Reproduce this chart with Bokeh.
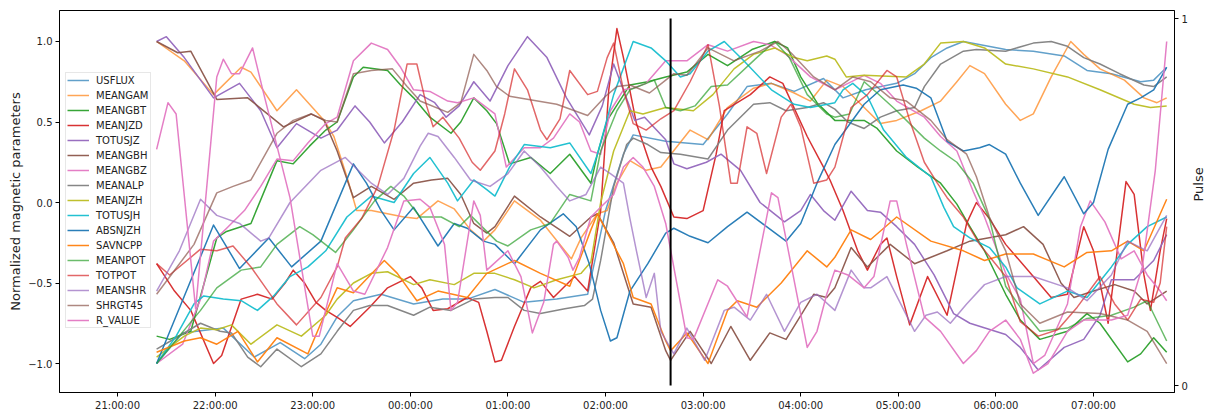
import math
import datetime as dt
import pandas as pd
from bokeh.plotting import figure
from bokeh.models import (Range1d, LinearAxis, FixedTicker, DatetimeTickFormatter,
                          Legend, LegendItem, CustomJSTickFormatter)
from bokeh.embed import file_html
from bokeh.resources import INLINE

# ---------------- data (minutes after 21:00, normalized values) ----------------
base = dt.datetime(2011, 2, 14, 21, 0)

usflux_t = [24, 40, 65, 84, 100, 115, 125, 135, 145, 162, 182, 200, 215, 232, 250, 270, 289, 300, 311, 317, 337, 360, 375, 387, 402, 416, 434, 446, 460, 479, 490, 500, 510, 520, 546, 563, 582, 596, 611, 629, 637, 645]
usflux_v = [-1.0, -0.81, -0.78, -0.96, -0.87, -0.97, -0.88, -0.71, -0.61, -0.57, -0.63, -0.60, -0.60, -0.54, -0.62, -0.60, -0.57, -0.05, 0.30, 0.42, 0.38, 0.36, 0.55, 0.72, 0.74, 0.69, 0.77, 0.65, 0.70, 0.74, 0.80, 0.90, 0.96, 1.0, 0.95, 0.94, 0.91, 0.82, 0.80, 0.75, 0.76, 0.84]

meangam_t = [24, 41, 59, 76, 82, 98, 110, 127, 133, 141, 147, 156, 176, 184, 197, 207, 217, 225, 232, 244, 260, 279, 285, 295, 301, 307, 315, 325, 334, 352, 363, 375, 391, 402, 416, 426, 436, 446, 459, 469, 479, 494, 506, 516, 524, 533, 546, 555, 563, 574, 586, 594, 604, 619, 631, 639, 645]
meangam_v = [1.0, 0.88, 0.67, 0.84, 0.81, 0.57, 0.70, 0.51, 0.41, 0.16, -0.05, -0.05, -0.09, -0.10, 0.01, -0.04, -0.17, -0.24, -0.17, 0.01, -0.11, -0.35, -0.22, -0.07, -0.05, 0.12, 0.26, 0.20, 0.22, 0.45, 0.39, 0.59, 0.71, 0.74, 0.68, 0.63, 0.76, 0.72, 0.59, 0.49, 0.51, 0.57, 0.63, 0.75, 0.85, 0.80, 0.61, 0.51, 0.55, 0.78, 1.0, 0.92, 0.83, 0.76, 0.65, 0.62, 0.65]

meangbt_t = [24, 32, 45, 61, 67, 82, 98, 108, 118, 128, 135, 145, 151, 166, 174, 182, 192, 205, 211, 219, 227, 233, 241, 254, 266, 278, 291, 295, 301, 315, 326, 337, 350, 363, 375, 390, 404, 412, 420, 430, 441, 459, 467, 479, 492, 506, 516, 524, 533, 546, 555, 567, 584, 596, 604, 621, 629, 637, 645]
meangbt_v = [-0.83, -0.85, -0.80, -0.22, -0.18, -0.13, 0.26, 0.24, 0.35, 0.45, 0.50, 0.78, 0.84, 0.82, 0.73, 0.65, 0.53, 0.43, 0.50, 0.65, 0.57, 0.49, 0.24, 0.28, 0.18, 0.30, 0.12, 0.30, 0.51, 0.73, 0.75, 0.78, 0.81, 0.92, 0.85, 0.95, 1.0, 0.96, 0.78, 0.62, 0.51, 0.51, 0.46, 0.32, 0.22, 0.12, -0.01, -0.15, -0.30, -0.57, -0.73, -0.85, -0.80, -0.69, -0.75, -0.99, -0.94, -0.84, -0.93]

meanjzd_t = [24, 35, 45, 59, 64, 76, 86, 95, 103, 108, 115, 122, 128, 136, 143, 155, 166, 180, 187, 194, 203, 215, 222, 227, 232, 236, 244, 254, 260, 268, 281, 289, 297, 302, 307, 311, 319, 328, 334, 342, 350, 360, 368, 373, 389, 401, 409, 424, 434, 438, 446, 455, 461, 469, 473, 479, 487, 498, 510, 522, 528, 536, 546, 563, 574, 584, 594, 600, 609, 620, 625, 631, 635, 641, 645]
meanjzd_v = [-0.38, -0.55, -0.67, -1.0, -0.95, -0.60, -0.57, -0.60, -0.50, -0.42, -0.50, -0.62, -0.67, -0.72, -0.77, -0.65, -0.53, -0.46, -0.53, -0.67, -0.66, -0.59, -0.62, -0.80, -0.99, -0.98, -0.77, -0.53, -0.49, -0.59, -0.46, -0.55, -0.05, 0.70, 1.08, 0.90, 0.49, 0.22, 0.10, -0.09, -0.10, -0.05, 0.30, 0.57, 0.67, 0.78, 0.74, 0.41, 0.22, 0.14, -0.05, -0.30, -0.42, -0.26, -0.22, -0.46, -0.76, -0.46, -0.70, -0.13, 0.0, -0.10, -0.26, -0.46, -0.59, -0.57, -0.15, -0.30, -0.75, 0.13, 0.05, -0.45, -0.67, -0.30, -0.10]

totusjz_t = [24, 30, 41, 59, 75, 88, 98, 110, 125, 135, 146, 155, 164, 175, 186, 195, 202, 210, 219, 229, 240, 252, 264, 276, 290, 298, 305, 318, 324, 337, 342, 350, 362, 371, 383, 395, 410, 420, 426, 434, 441, 451, 461, 469, 479, 490, 502, 514, 524, 546, 555, 566, 582, 594, 604, 611, 625, 637, 645]
totusjz_v = [1.0, 1.03, 0.90, 0.65, 0.74, 0.57, 0.34, 0.49, 0.40, 0.45, 0.60, 0.50, 0.37, 0.50, 0.67, 0.62, 0.53, 0.60, 0.75, 0.63, 0.85, 1.03, 0.90, 0.65, 0.42, 0.60, 0.86, 0.51, 0.53, 0.39, 0.24, 0.21, 0.25, 0.30, 0.20, 0.0, -0.12, -0.05, 0.05, -0.05, -0.11, 0.07, -0.05, -0.06, -0.15, -0.26, -0.45, -0.69, -0.75, -0.82, -0.90, -1.04, -0.90, -0.85, -0.70, -0.48, -0.48, -0.36, -0.20]

meangbh_t = [24, 37, 45, 61, 80, 102, 119, 127, 135, 145, 156, 170, 182, 193, 203, 211, 219, 227, 232, 244, 260, 278, 291, 295, 305, 317, 328, 337, 340, 352, 365, 377, 389, 401, 411, 428, 436, 441, 451, 461, 475, 490, 500, 510, 524, 546, 557, 569, 580, 588, 600, 613, 625, 633, 645]
meangbh_v = [1.0, 0.93, 0.94, 0.64, 0.65, 0.47, 0.55, 0.51, 0.32, 0.03, 0.10, 0.02, 0.12, 0.14, 0.15, 0.05, -0.13, -0.19, -0.15, 0.04, -0.09, -0.21, -0.09, -0.07, -0.25, -0.63, -0.65, -0.92, -0.98, -0.80, -1.0, -0.77, -0.98, -0.81, -0.85, -0.57, -0.59, -0.53, -0.28, -0.40, -0.26, -0.38, -0.34, -0.30, -0.24, -0.20, -0.15, -0.26, -0.50, -0.59, -0.55, -0.51, -0.55, -0.63, -0.55]

meangbz_t = [24, 40, 51, 59, 68, 78, 88, 98, 108, 117, 128, 135, 145, 156, 166, 174, 182, 192, 203, 209, 219, 232, 239, 250, 260, 268, 278, 284, 291, 297, 303, 311, 317, 325, 337, 350, 363, 375, 391, 401, 411, 426, 441, 459, 469, 479, 496, 506, 516, 526, 533, 546, 555, 563, 570, 584, 592, 598, 607, 617, 625, 633, 641, 645]
meangbz_v = [-1.0, -0.88, -0.60, -0.24, -0.15, -0.05, 0.10, 0.27, 0.26, 0.37, 0.49, 0.53, 0.88, 0.99, 0.95, 0.84, 0.70, 0.69, 0.63, 0.62, 0.65, 0.55, 0.22, 0.34, 0.34, 0.40, 0.55, 0.50, 0.32, 0.30, 0.57, 0.70, 0.71, 0.74, 0.88, 0.88, 0.98, 0.94, 1.0, 0.98, 0.92, 0.78, 0.70, 0.79, 0.74, 0.63, 0.53, 0.41, 0.32, 0.07, -0.09, -0.44, -0.60, -1.0, -0.95, -0.63, -0.15, 0.01, -0.12, -0.35, -0.30, -0.45, -0.55, -0.61]

meanalp_t = [24, 36, 51, 63, 70, 80, 88, 98, 113, 125, 135, 145, 155, 166, 182, 192, 205, 219, 232, 240, 250, 260, 275, 287, 292, 297, 305, 313, 317, 326, 334, 346, 363, 375, 391, 401, 411, 424, 434, 441, 449, 459, 469, 479, 490, 496, 506, 520, 528, 546, 563, 574, 584, 594, 604, 616, 631, 637, 645]
meanalp_v = [-0.91, -0.84, -0.75, -0.80, -0.81, -0.96, -1.02, -0.91, -1.02, -0.94, -0.80, -0.67, -0.64, -0.64, -0.70, -0.65, -0.67, -0.60, -0.59, -0.59, -0.67, -0.69, -0.66, -0.64, -0.60, -0.36, 0.10, 0.36, 0.40, 0.36, 0.31, 0.30, 0.27, 0.45, 0.61, 0.62, 0.57, 0.59, 0.62, 0.58, 0.50, 0.46, 0.53, 0.57, 0.59, 0.72, 0.86, 0.94, 0.95, 0.94, 0.99, 1.0, 0.97, 0.90, 0.86, 0.80, 0.73, 0.72, 0.78]

meanjzh_t = [24, 41, 51, 61, 70, 82, 98, 113, 128, 135, 145, 156, 166, 182, 192, 207, 219, 232, 244, 256, 270, 285, 291, 297, 305, 315, 323, 337, 354, 366, 379, 391, 404, 416, 424, 436, 441, 448, 459, 485, 496, 506, 520, 533, 546, 563, 584, 604, 625, 635, 645]
meanjzh_v = [-0.96, -0.83, -0.78, -0.79, -0.76, -0.88, -0.76, -0.83, -0.70, -0.60, -0.50, -0.44, -0.43, -0.51, -0.48, -0.51, -0.44, -0.44, -0.48, -0.53, -0.48, -0.44, -0.37, 0.0, 0.32, 0.57, 0.55, 0.59, 0.57, 0.67, 0.83, 0.92, 0.96, 0.90, 0.88, 0.91, 0.89, 0.78, 0.79, 0.78, 0.86, 0.99, 1.0, 0.96, 0.86, 0.83, 0.78, 0.70, 0.61, 0.59, 0.60]

totusjh_t = [24, 36, 47, 53, 65, 76, 86, 96, 106, 117, 128, 141, 156, 170, 182, 192, 203, 209, 219, 227, 232, 241, 250, 266, 278, 291, 295, 305, 317, 328, 337, 346, 352, 363, 373, 385, 402, 416, 426, 441, 446, 452, 461, 471, 485, 500, 508, 514, 524, 536, 546, 553, 567, 584, 596, 611, 621, 633, 645]
totusjh_v = [-1.0, -0.83, -0.63, -0.58, -0.60, -0.61, -0.67, -0.58, -0.46, -0.40, -0.30, -0.09, 0.04, 0.0, 0.18, 0.28, 0.12, 0.01, 0.14, 0.08, 0.04, 0.22, 0.36, 0.34, 0.37, 0.18, 0.30, 0.67, 1.0, 0.96, 0.88, 0.78, 0.80, 0.94, 1.0, 0.88, 0.70, 0.61, 0.59, 0.62, 0.70, 0.74, 0.66, 0.45, 0.28, 0.16, -0.03, -0.15, -0.22, -0.28, -0.40, -0.53, -0.63, -0.55, -0.59, -0.40, -0.26, -0.15, -0.09]

absnjzh_t = [24, 59, 75, 93, 107, 125, 145, 153, 162, 170, 182, 197, 207, 215, 225, 232, 244, 260, 274, 282, 290, 297, 303, 307, 315, 326, 337, 342, 352, 363, 375, 387, 399, 411, 420, 430, 441, 459, 469, 483, 491, 500, 510, 520, 530, 536, 546, 555, 566, 582, 594, 600, 609, 621, 629, 637, 645]
absnjzh_v = [-1.0, -0.14, -0.41, -0.22, -0.40, -0.24, 0.24, 0.12, -0.05, -0.17, -0.03, -0.27, -0.13, -0.16, -0.24, -0.26, -0.38, -0.17, -0.07, -0.15, -0.38, -0.67, -0.86, -0.84, -0.55, -0.38, -0.19, -0.16, -0.21, -0.25, -0.15, -0.06, -0.15, -0.24, -0.13, 0.12, 0.36, 0.61, 0.70, 0.73, 0.71, 0.65, 0.38, 0.32, 0.34, 0.36, 0.30, 0.12, -0.08, 0.16, -0.07, 0.0, 0.33, 0.61, 0.65, 0.70, 0.84]

savncpp_t = [24, 41, 51, 61, 74, 86, 98, 117, 125, 135, 145, 164, 172, 184, 197, 215, 227, 244, 260, 278, 291, 295, 311, 317, 328, 337, 340, 350, 363, 375, 381, 393, 408, 424, 436, 441, 451, 463, 479, 500, 520, 533, 546, 563, 582, 596, 611, 621, 631, 645]
savncpp_v = [-0.93, -0.86, -0.84, -0.88, -0.80, -0.99, -0.84, -0.94, -0.75, -0.53, -0.56, -0.36, -0.44, -0.61, -0.55, -0.59, -0.44, -0.36, -0.44, -0.52, -0.17, -0.07, -0.38, -0.59, -0.63, -0.86, -0.92, -0.81, -1.0, -0.67, -0.61, -0.65, -0.50, -0.30, -0.40, -0.34, -0.17, -0.23, -0.09, -0.24, -0.30, -0.36, -0.32, -0.32, -0.40, -0.31, -0.30, -0.24, -0.30, 0.02]

meanpot_t = [24, 51, 61, 76, 88, 98, 112, 120, 134, 145, 158, 168, 176, 186, 199, 210, 217, 233, 240, 254, 266, 278, 291, 297, 307, 315, 330, 337, 346, 355, 365, 375, 393, 404, 413, 424, 436, 441, 450, 459, 467, 479, 496, 506, 516, 526, 536, 546, 555, 567, 584, 596, 611, 625, 633, 645]
meanpot_v = [-1.0, -0.67, -0.53, -0.42, -0.40, -0.26, -0.15, -0.20, -0.31, -0.17, 0.01, 0.10, 0.04, -0.09, -0.09, -0.15, -0.08, -0.24, -0.27, -0.17, -0.13, 0.05, 0.01, 0.32, 0.57, 0.70, 0.76, 0.59, 0.57, 0.60, 0.72, 0.73, 0.90, 1.0, 0.90, 0.67, 0.55, 0.53, 0.55, 0.75, 0.68, 0.57, 0.40, 0.32, 0.25, 0.12, -0.10, -0.52, -0.65, -0.80, -0.78, -0.72, -0.70, -0.65, -0.61, -0.86]

totpot_t = [24, 32, 51, 61, 71, 82, 98, 110, 125, 135, 140, 150, 160, 170, 178, 184, 190, 194, 200, 210, 218, 223, 232, 238, 244, 252, 260, 264, 272, 278, 289, 295, 301, 305, 311, 317, 325, 334, 342, 352, 363, 370, 377, 381, 387, 393, 399, 408, 414, 420, 428, 436, 441, 451, 461, 473, 479, 487, 496, 504, 510, 520, 530, 546, 555, 566, 578, 590, 604, 613, 621, 629, 637, 641, 645]
totpot_v = [-0.38, -0.45, -0.29, -0.30, -0.27, -0.40, -0.63, -0.76, -0.59, -0.40, -0.22, -0.10, 0.10, 0.45, 0.86, 0.86, 0.60, 0.47, 0.53, 0.40, 0.25, 0.20, 0.32, 0.55, 0.83, 0.70, 0.45, 0.39, 0.52, 0.82, 0.67, 0.69, 0.90, 0.99, 0.70, 0.49, 0.45, 0.52, 0.57, 0.75, 0.98, 0.60, 0.12, 0.12, 0.47, 0.43, 0.18, 0.53, 0.61, 0.47, 0.12, 0.14, 0.22, 0.59, 0.67, 0.82, 0.78, 0.51, 0.25, 0.12, 0.03, -0.09, -0.26, -0.46, -0.74, -0.83, -0.79, -0.65, -0.46, -0.63, -0.73, -0.60, -0.62, -0.50, -0.15]

meanshr_t = [24, 38, 51, 61, 75, 88, 93, 106, 125, 140, 156, 166, 176, 186, 191, 197, 207, 217, 229, 240, 250, 260, 270, 278, 288, 297, 303, 311, 315, 319, 325, 330, 334, 342, 350, 361, 373, 379, 389, 399, 410, 420, 430, 441, 451, 459, 463, 473, 480, 490, 497, 504, 512, 522, 533, 546, 563, 584, 596, 611, 621, 629, 633, 645]
meanshr_v = [-0.55, -0.30, 0.02, -0.08, -0.13, -0.24, -0.22, 0.0, 0.20, 0.28, 0.12, 0.05, 0.15, 0.35, 0.43, 0.41, 0.28, 0.14, 0.10, 0.18, 0.32, 0.22, 0.10, 0.01, 0.05, 0.22, 0.18, 0.12, -0.10, -0.30, -0.59, -0.44, -0.80, -0.94, -0.78, -0.98, -0.67, -0.65, -0.73, -0.57, -0.80, -0.62, -0.57, -0.67, -0.42, -0.53, -0.53, -0.46, -0.60, -0.80, -0.70, -0.68, -0.75, -0.63, -0.51, -0.46, -0.46, -0.53, -0.61, -0.45, -0.24, -0.28, -0.30, -0.08]

shrgt45_t = [24, 47, 61, 71, 82, 92, 98, 108, 119, 128, 135, 145, 156, 169, 178, 186, 203, 211, 219, 227, 233, 241, 270, 289, 300, 307, 315, 327, 337, 342, 350, 363, 379, 395, 406, 414, 428, 441, 452, 463, 475, 485, 500, 510, 522, 528, 536, 546, 555, 567, 584, 604, 621, 633, 645]
shrgt45_v = [-0.57, -0.26, 0.06, 0.10, 0.14, 0.32, 0.43, 0.51, 0.55, 0.51, 0.50, 0.80, 0.82, 0.83, 0.72, 0.63, 0.56, 0.62, 0.92, 0.82, 0.72, 0.66, 0.61, 0.54, 0.66, 0.72, 0.73, 0.68, 0.76, 0.80, 0.79, 0.96, 0.88, 0.94, 1.0, 0.93, 0.78, 0.70, 0.78, 0.75, 0.65, 0.63, 0.51, 0.39, 0.30, 0.16, -0.09, -0.30, -0.63, -0.75, -0.68, -0.69, -0.73, -0.80, -1.0]

r_value_t = [24, 31, 36, 48, 61, 65, 70, 75, 83, 90, 106, 120, 124, 135, 145, 152, 166, 176, 186, 192, 201, 205, 209, 219, 223, 227, 240, 248, 255, 262, 268, 270, 277, 280, 284, 291, 297, 305, 311, 317, 323, 330, 337, 350, 354, 369, 375, 387, 402, 406, 424, 430, 436, 441, 449, 459, 465, 475, 479, 485, 496, 506, 520, 528, 536, 546, 555, 563, 572, 584, 594, 611, 621, 630, 638, 645]
r_value_v = [0.33, 0.62, 0.55, -0.66, 0.78, 0.89, 0.80, 0.80, 0.96, 0.67, 0.03, -0.83, -0.83, -0.38, -0.55, -0.57, -0.28, 0.01, 0.02, -0.03, -0.26, -0.67, -0.62, 0.01, -0.08, -0.42, -0.30, -0.46, -0.81, -0.62, -0.26, -0.24, -0.34, -0.42, -0.34, -0.09, -0.03, 0.05, 0.22, 0.28, 0.22, 0.10, -0.13, -0.84, -0.85, -0.48, -0.52, -0.71, 0.06, 0.03, -0.90, -0.80, -0.57, -0.42, -0.45, -0.53, -0.46, 0.01, 0.01, -0.26, -0.71, -0.80, -1.0, -0.92, -0.80, -0.73, -0.85, -1.06, -1.0, -0.80, -0.73, -0.73, -0.70, -0.40, 0.20, 1.0]

pulse_t = 340          # minutes after 21:00
pulse_v = [0, 1]

series_names = ["USFLUX", "MEANGAM", "MEANGBT", "MEANJZD", "TOTUSJZ", "MEANGBH",
                "MEANGBZ", "MEANALP", "MEANJZH", "TOTUSJH", "ABSNJZH", "SAVNCPP",
                "MEANPOT", "TOTPOT", "MEANSHR", "SHRGT45", "R_VALUE"]
series_data = [(usflux_t, usflux_v), (meangam_t, meangam_v), (meangbt_t, meangbt_v),
               (meanjzd_t, meanjzd_v), (totusjz_t, totusjz_v), (meangbh_t, meangbh_v),
               (meangbz_t, meangbz_v), (meanalp_t, meanalp_v), (meanjzh_t, meanjzh_v),
               (totusjh_t, totusjh_v), (absnjzh_t, absnjzh_v), (savncpp_t, savncpp_v),
               (meanpot_t, meanpot_v), (totpot_t, totpot_v), (meanshr_t, meanshr_v),
               (shrgt45_t, shrgt45_v), (r_value_t, r_value_v)]
tick_hours = [21, 22, 23, 0, 1, 2, 3, 4, 5, 6, 7]

# ---------------- styling ----------------
tab10 = ["#1f77b4", "#ff7f0e", "#2ca02c", "#d62728", "#9467bd",
         "#8c564b", "#e377c2", "#7f7f7f", "#bcbd22", "#17becf"]
light = {"USFLUX", "MEANGAM", "MEANPOT", "TOTPOT", "MEANSHR", "SHRGT45"}


def to_dt(minutes):
    return base + dt.timedelta(minutes=minutes)


x_start = to_dt(-35.7)
x_end = to_dt(649.8)

p = figure(x_axis_type="datetime", output_backend="svg", toolbar_location=None,
           frame_width=1115, frame_height=382,
           min_border_left=59, min_border_right=34, min_border_top=10, min_border_bottom=20,
           x_range=Range1d(x_start, x_end), y_range=Range1d(-1.18, 1.1925))
p.extra_y_ranges = {"pulse": Range1d(-0.019, 1.0218)}

p.xgrid.visible = False
p.ygrid.visible = False
p.outline_line_color = "black"
p.outline_line_width = 1
p.background_fill_color = "white"
p.border_fill_color = "white"

items = []
for i, (name, (tt, vv)) in enumerate(zip(series_names, series_data)):
    col = tab10[i % 10]
    alpha = 0.7 if name in light else 0.95
    r = p.line([to_dt(m) for m in tt], vv, line_color=col, line_width=1.5, line_alpha=alpha,
               line_join="round")
    items.append(LegendItem(label=name, renderers=[r]))

# pulse marker on the secondary axis
p.line([to_dt(pulse_t), to_dt(pulse_t)], pulse_v, line_color="black", line_width=2,
       y_range_name="pulse")

# axes
tick_ms = []
for h in tick_hours:
    d = base.replace(hour=h) if h >= 21 else (base + dt.timedelta(days=1)).replace(hour=h)
    tick_ms.append(pd.Timestamp(d).value / 1e6)

xa = p.xaxis[0]
xa.ticker = FixedTicker(ticks=tick_ms)
xa.formatter = DatetimeTickFormatter(hours="%H:%M:%S", days="%H:%M:%S", minutes="%H:%M:%S")
ya = p.yaxis[0]
ya.ticker = FixedTicker(ticks=[-1.0, -0.5, 0.0, 0.5, 1.0])
ya.formatter = CustomJSTickFormatter(code="return tick.toFixed(1).replace('-', '\u2212');")
ya.axis_label = "Normalized magnetic parameters"

ra = LinearAxis(y_range_name="pulse", ticker=FixedTicker(ticks=[0, 1]), axis_label="Pulse")
p.add_layout(ra, "right")

for ax in [xa, ya, ra]:
    ax.axis_line_color = "black"
    ax.major_tick_line_color = "black"
    ax.minor_tick_line_color = None
    ax.major_tick_in = 0
    ax.major_tick_out = 4
    ax.major_label_text_font = "DejaVu Sans"
    ax.major_label_text_font_size = "10px"
    ax.major_label_text_color = "#222222"
    ax.major_label_standoff = 3
    ax.axis_label_text_font = "DejaVu Sans"
    ax.axis_label_text_font_size = "13px"
    ax.axis_label_text_font_style = "normal"
    ax.axis_label_text_color = "#222222"
    ax.axis_label_standoff = 6

ya.axis_label_standoff = 2
ra.axis_label_standoff = 8
try:
    ra.axis_label_orientation = math.pi / 2
except Exception:
    pass

legend = Legend(items=items, location=(6, 64))
legend.label_text_font = "DejaVu Sans"
legend.label_text_font_size = "10px"
legend.label_text_color = "#222222"
legend.label_height = 12
legend.glyph_height = 12
legend.glyph_width = 22
legend.label_standoff = 7
legend.spacing = 3
legend.padding = 1
legend.margin = 0
legend.border_line_color = "#d0d0d0"
legend.border_line_width = 1
legend.background_fill_alpha = 0.85
p.add_layout(legend, "center")

open("out.html", "w").write(file_html(p, INLINE))
